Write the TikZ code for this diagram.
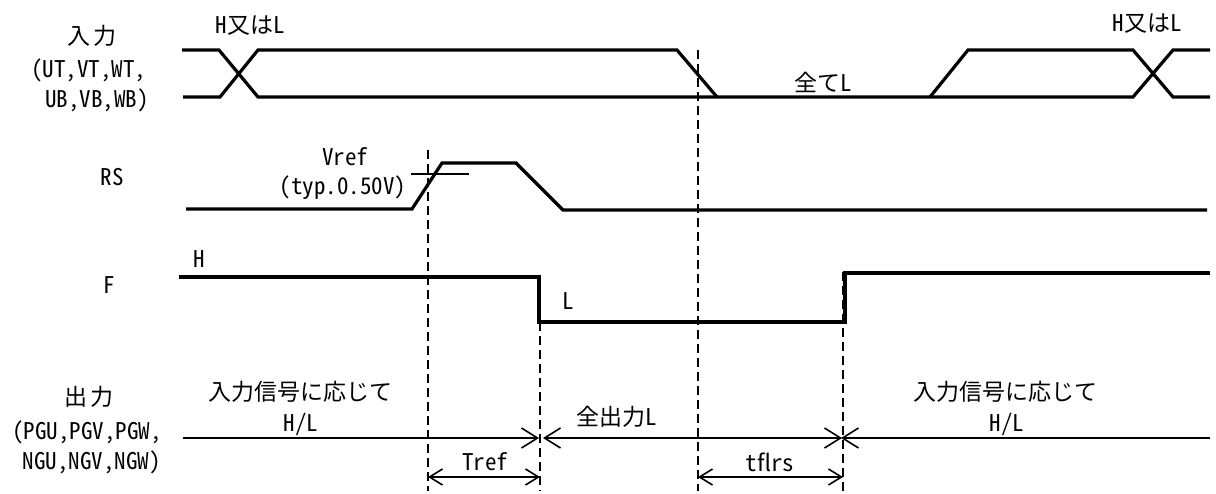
\documentclass[tikz,border=0pt]{standalone}
\usepackage{fontspec}
\setmainfont{Noto Sans CJK JP}[RawFeature=+hwid]
\usetikzlibrary{arrows.meta}

\begin{document}
\begin{tikzpicture}[x=0.5pt,y=-0.5pt,font=\fontsize{11.5}{14}\selectfont]
    \tikzstyle{wave}=[line width=1.6pt,line join=miter]
    \tikzstyle{marker}=[line width=0.7pt,dash pattern=on 4.5pt off 2.5pt]
    \tikzstyle{bus}=[line width=0.8pt]
    \tikzstyle{barb}=[-{Straight Barb[length=8pt,width=10pt,line width=0.8pt]}]
    \tikzstyle{bothbarb}=[{Straight Barb[length=8pt,width=10pt,line width=0.8pt]}-{Straight Barb[length=8pt,width=10pt,line width=0.8pt]}]
    \tikzstyle{dim}=[line width=0.8pt,{Straight Barb[length=6.5pt,width=8pt]}-{Straight Barb[length=6.5pt,width=8pt]}]
    \tikzstyle{lbl}=[inner sep=0pt]

    \useasboundingbox (0,0) rectangle (1216,493);

    % timing markers
    \foreach \name / \x / \y in {A/428/150, B/540/322, C/698/50, D/843/272}
        \draw[marker] (\x,\y) coordinate (\name-top) -- (\x,491) coordinate (\name-bot);

    % input
    \draw[wave] (182,50) -- (219,50) -- (258,97) -- (1133,97) -- (1173,50) -- (1210,50);
    \draw[wave] (183,97) -- (220,97) -- (258,50) -- (677,50) -- (717,97);
    \draw[wave] (930,97) -- (968,50) -- (1133,50) -- (1173,97) -- (1210,97);

    % RS
    \draw[wave] (186,209) -- (412,209) -- (442,163) -- (516,163) -- (563,210) -- (1207,210);
    \draw[bus] (411,174) -- (469,174);

    % F
    \draw[wave] (179,277) -- (539,277) -- (539,322) -- (845,322) -- (845,273) -- (1210,273);

    % output
    \coordinate (out-L) at (183,438);
    \coordinate (out-R) at (1210,438);
    \draw[bus,barb,shorten >=0.5pt] (out-L) -- (B-top |- out-L);
    \draw[bus,bothbarb,shorten >=0.5pt] ([xshift=1.5pt]B-top |- out-L) -- (D-top |- out-L);
    \draw[bus,barb,shorten >=-1pt] (out-R) -- (D-top |- out-L);

    % intervals
    \coordinate (dim-y) at (0,477);
    \draw[dim] (A-top |- dim-y) -- (B-top |- dim-y);
    \draw[dim] (C-top |- dim-y) -- (D-top |- dim-y);

    % labels
    \node[lbl] (in)    at (92,36)   {入\,力};
    \node[lbl] (in-1)  at (89,70)   {(UT,VT,WT,};
    \node[lbl] (in-2)  at (97,100)  {UB,VB,WB)};
    \node[lbl] (hl-1)  at (250,26)  {H又はL};
    \node[lbl] (hl-2)  at (1147,24) {H又はL};
    \node[lbl] (allL)  at (823,82)  {全てL};
    \node[lbl] (rs)    at (112,177) {RS};
    \node[lbl] (vref)  at (345,157) {Vref};
    \node[lbl] (typ)   at (343,188) {(typ.0.50V)};
    \node[lbl] (fH)    at (199,259) {H};
    \node[lbl] (f)     at (109,285) {F};
    \node[lbl] (fL)    at (568,301) {L};
    \node[lbl] (out)   at (89,397)  {出\,力};
    \node[lbl] (out-1) at (87,432)  {(PGU,PGV,PGW,};
    \node[lbl] (out-2) at (92,462)  {NGU,NGV,NGW)};
    \node[lbl] (resp-1) at (300,392) {入力信号に応じて};
    \node[lbl] (hl-3)  at (301,424) {H/L};
    \node[lbl] (alloutL) at (617,417) {全出力L};
    \node[lbl] (tref)  at (485,462) {Tref};
    \node[lbl] (tflrs) at (770,462) {tflrs};
    \node[lbl] (resp-2) at (1005,392) {入力信号に応じて};
    \node[lbl] (hl-4)  at (1007,424) {H/L};
\end{tikzpicture}
\end{document}
